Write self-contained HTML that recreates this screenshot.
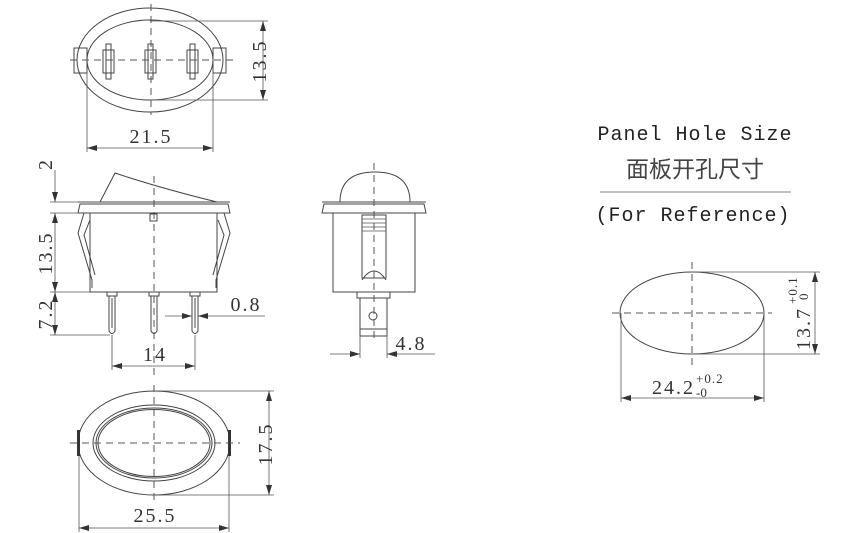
<!DOCTYPE html>
<html><head><meta charset="utf-8"><style>
html,body{margin:0;padding:0;background:#fff}
svg{display:block}
text{font-family:"Liberation Serif","Noto Serif CJK SC",serif;fill:#333}
.n{font-size:20px;letter-spacing:2px}
.s{fill:none;stroke:#444;stroke-width:1}
.d{fill:none;stroke:#555;stroke-width:1;stroke-dasharray:7,5}
.t{fill:none;stroke:#555;stroke-width:0.8}
</style></head><body>
<svg width="841" height="533" viewBox="0 0 841 533" xmlns="http://www.w3.org/2000/svg">
<defs>
<marker id="a" viewBox="0 0 10 6" refX="10" refY="3" markerWidth="10" markerHeight="6" orient="auto-start-reverse" markerUnits="userSpaceOnUse"><path d="M0,0L10,3L0,6z" fill="#333"/></marker>
</defs>

<!-- TOP VIEW -->
<ellipse class="s" cx="150" cy="60" rx="73" ry="52"/>
<ellipse class="s" cx="150" cy="60" rx="63" ry="40"/>
<rect class="s" x="74" y="48" width="13" height="25" fill="#fff"/>
<rect class="s" x="213" y="48" width="13" height="25" fill="#fff"/>
<g class="s">
<rect x="103" y="50" width="11" height="23"/><rect x="106" y="44" width="5" height="35"/>
<rect x="145" y="50" width="11" height="23"/><rect x="148" y="44" width="5" height="35"/>
<rect x="187" y="50" width="11" height="23"/><rect x="190" y="44" width="5" height="35"/>
</g>
<line class="d" x1="70" y1="60" x2="235" y2="60"/>
<line class="d" x1="151" y1="4" x2="151" y2="115"/>
<line class="t" x1="150" y1="21" x2="268" y2="21"/>
<line class="t" x1="150" y1="100" x2="268" y2="100"/>
<line class="t" x1="263" y1="21" x2="263" y2="100" marker-start="url(#a)" marker-end="url(#a)"/>
<text class="n" transform="translate(266,61) rotate(-90)" text-anchor="middle">13.5</text>
<line class="t" x1="87" y1="70" x2="87" y2="152"/>
<line class="t" x1="213" y1="70" x2="213" y2="152"/>
<line class="t" x1="87" y1="148" x2="213" y2="148" marker-start="url(#a)" marker-end="url(#a)"/>
<text class="n" x="151" y="143" text-anchor="middle">21.5</text>

<!-- SIDE VIEW -->
<path class="s" d="M100,202 L115,173 Q160,188 217,202"/>
<path class="s" d="M78,213 L80,204 L228,204 L230,213 Z"/>
<line class="s" x1="78" y1="202" x2="230" y2="202"/>
<rect class="s" x="90" y="213" width="127" height="79"/>
<path class="s" d="M84,213 L78,233 L92,280 L92,288 M90,220 L84,235 L95,275"/>
<path class="s" d="M224,213 L230,233 L216,280 L216,288 M218,220 L224,235 L213,275"/>
<rect class="s" x="150" y="214" width="7" height="7"/>
<g class="s">
<rect x="107" y="292" width="10" height="4"/><path d="M109,296 V331 Q112,336 115,331 V296"/><line x1="112" y1="298" x2="112" y2="328"/>
<rect x="149" y="292" width="10" height="4"/><path d="M151,296 V331 Q154,336 157,331 V296"/>
<rect x="190" y="292" width="10" height="4"/><path d="M192,296 V331 Q195,336 198,331 V296"/><line x1="195" y1="298" x2="195" y2="328"/>
</g>
<line class="d" x1="154" y1="176" x2="154" y2="375"/>
<line class="t" x1="50" y1="202" x2="100" y2="202"/>
<line class="t" x1="50" y1="213" x2="78" y2="213"/>
<line class="t" x1="50" y1="292" x2="90" y2="292"/>
<line class="t" x1="50" y1="335" x2="110" y2="335"/>
<line class="t" x1="55" y1="170" x2="55" y2="202" marker-end="url(#a)"/>
<line class="t" x1="55" y1="213" x2="55" y2="292" marker-start="url(#a)" marker-end="url(#a)"/>
<line class="t" x1="55" y1="292" x2="55" y2="335" marker-start="url(#a)" marker-end="url(#a)"/>
<text class="n" transform="translate(52,164) rotate(-90)" text-anchor="middle">2</text>
<text class="n" transform="translate(52,253) rotate(-90)" text-anchor="middle">13.5</text>
<text class="n" transform="translate(52,314) rotate(-90)" text-anchor="middle">7.2</text>
<line class="t" x1="112" y1="335" x2="112" y2="370"/>
<line class="t" x1="195" y1="335" x2="195" y2="370"/>
<line class="t" x1="112" y1="366" x2="195" y2="366" marker-start="url(#a)" marker-end="url(#a)"/>
<text class="n" x="155" y="361" text-anchor="middle">14</text>
<line class="t" x1="165" y1="316" x2="192" y2="316" marker-end="url(#a)"/>
<line class="t" x1="265" y1="316" x2="198" y2="316" marker-end="url(#a)"/>
<text class="n" x="246" y="311" text-anchor="middle">0.8</text>

<!-- FRONT VIEW -->
<path class="s" d="M340,202 Q340,172 375,172 Q410,172 410,202"/>
<path class="s" d="M322,213 L324,204 L424,204 L426,213 Z"/>
<line class="s" x1="322" y1="202" x2="426" y2="202"/>
<rect class="s" x="333" y="213" width="82" height="79"/>
<rect class="s" x="362" y="215" width="24" height="63"/>
<g class="t"><line x1="362" y1="219" x2="386" y2="219"/><line x1="362" y1="223" x2="386" y2="223"/><line x1="362" y1="227" x2="386" y2="227"/><line x1="362" y1="231" x2="386" y2="231"/></g>
<path class="s" d="M362,280 Q374,262 386,280"/>
<rect class="s" x="357" y="292" width="33" height="6"/>
<path class="s" d="M360,298 V336 H387 V298"/>
<line class="s" x1="360" y1="329" x2="387" y2="329"/>
<circle class="s" cx="373" cy="316" r="4"/>
<line class="d" x1="374" y1="163" x2="374" y2="340"/>
<line class="t" x1="360" y1="336" x2="360" y2="358"/>
<line class="t" x1="387" y1="336" x2="387" y2="358"/>
<line class="t" x1="330" y1="354" x2="360" y2="354" marker-end="url(#a)"/>
<line class="t" x1="435" y1="354" x2="387" y2="354" marker-end="url(#a)"/>
<text class="n" x="411" y="350" text-anchor="middle">4.8</text>

<!-- BOTTOM VIEW -->
<ellipse class="s" cx="154" cy="443" rx="76" ry="52"/>
<ellipse class="s" cx="154" cy="443" rx="61" ry="38"/>
<ellipse class="s" cx="154" cy="443" rx="58" ry="35"/>
<ellipse class="s" cx="154" cy="443" rx="56" ry="33.5"/>
<rect x="77" y="430" width="3" height="26" fill="#333"/>
<rect x="228" y="430" width="3" height="26" fill="#333"/>
<line class="d" x1="70" y1="443" x2="240" y2="443"/>
<line class="d" x1="154" y1="385" x2="154" y2="500"/>
<line class="t" x1="154" y1="391" x2="274" y2="391"/>
<line class="t" x1="154" y1="495" x2="274" y2="495"/>
<line class="t" x1="269" y1="391" x2="269" y2="495" marker-start="url(#a)" marker-end="url(#a)"/>
<text class="n" transform="translate(272,444) rotate(-90)" text-anchor="middle">17.5</text>
<line class="t" x1="79" y1="456" x2="79" y2="532"/>
<line class="t" x1="229" y1="456" x2="229" y2="532"/>
<line class="t" x1="79" y1="528" x2="229" y2="528" marker-start="url(#a)" marker-end="url(#a)"/>
<text class="n" x="155" y="522" text-anchor="middle">25.5</text>

<!-- PANEL HOLE -->
<text x="695" y="140" text-anchor="middle" font-size="20" letter-spacing="1" style="font-family:'Liberation Mono',monospace;fill:#222">Panel Hole Size</text>
<text x="695" y="177" text-anchor="middle" font-size="23" style="font-family:'Noto Sans CJK SC',sans-serif;fill:#444">面板开孔尺寸</text>
<line class="t" x1="600" y1="192" x2="791" y2="192"/>
<text x="693" y="221" text-anchor="middle" font-size="20" letter-spacing="1" style="font-family:'Liberation Mono',monospace;fill:#222">(For Reference)</text>
<ellipse class="s" cx="692" cy="313" rx="72" ry="41"/>
<line class="d" x1="612" y1="313" x2="772" y2="313"/>
<line class="d" x1="692" y1="262" x2="692" y2="368"/>
<line class="t" x1="692" y1="272" x2="820" y2="272"/>
<line class="t" x1="692" y1="354" x2="820" y2="354"/>
<line class="t" x1="815" y1="272" x2="815" y2="354" marker-start="url(#a)" marker-end="url(#a)"/>
<text class="n" transform="translate(810,350) rotate(-90)">13.7</text>
<text transform="translate(797,304) rotate(-90)" font-size="13" letter-spacing="1">+0.1</text>
<text transform="translate(808,300) rotate(-90)" font-size="13">0</text>
<text class="n" x="652" y="394">24.2</text>
<text x="696" y="383" font-size="13" letter-spacing="1">+0.2</text>
<text x="696" y="397" font-size="13">-0</text>
<line class="t" x1="621" y1="313" x2="621" y2="402"/>
<line class="t" x1="764" y1="313" x2="764" y2="402"/>
<line class="t" x1="621" y1="398" x2="764" y2="398" marker-start="url(#a)" marker-end="url(#a)"/>
</svg>
</body></html>
